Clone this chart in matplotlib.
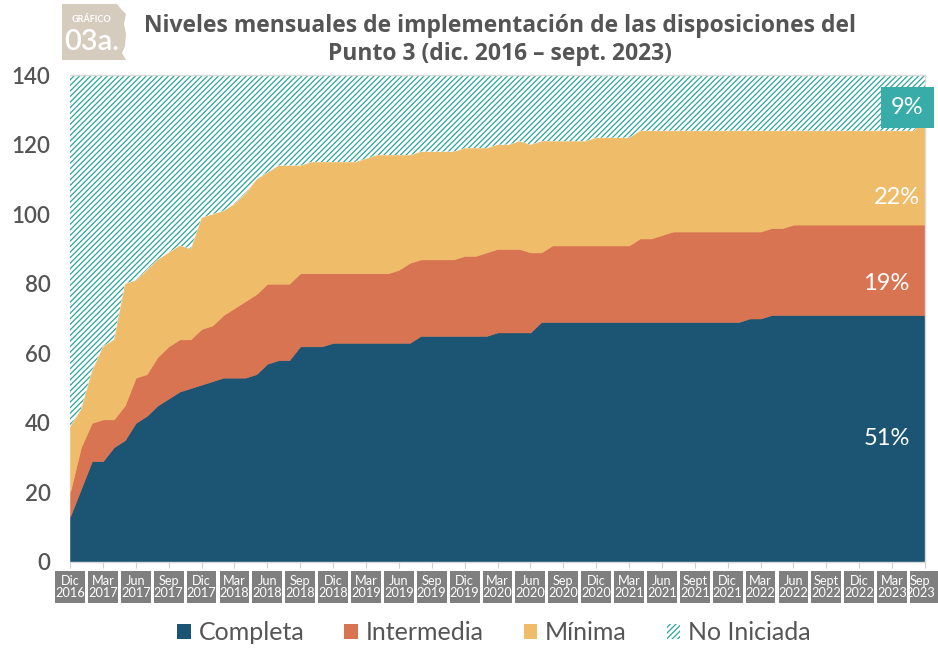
import numpy as np
import matplotlib
matplotlib.use("Agg")
import matplotlib.pyplot as plt
from matplotlib.patches import Patch, Rectangle, Polygon
import matplotlib.transforms as mtransforms

# monthly counts, Dic 2016 .. Sep 2023
completa = [13, 21, 29, 29, 33, 35, 40, 42, 45, 47, 49, 50, 51, 52, 53, 53, 53, 54, 57, 58,
            58, 62, 62, 62, 63, 63, 63, 63, 63, 63, 63, 63, 65, 65, 65, 65, 65, 65, 65, 66,
            66, 66, 66, 69, 69, 69, 69, 69, 69, 69, 69, 69, 69, 69, 69, 69, 69, 69, 69, 69,
            69, 69, 70, 70, 71, 71, 71, 71, 71, 71, 71, 71, 71, 71, 71, 71, 71, 71, 71]
intermedia = [7, 12, 11, 12, 8, 10, 13, 12, 14, 15, 15, 14, 16, 16, 18, 20, 22, 23, 23, 22,
              22, 21, 21, 21, 20, 20, 20, 20, 20, 20, 21, 23, 22, 22, 22, 22, 23, 23, 24, 24,
              24, 24, 23, 20, 22, 22, 22, 22, 22, 22, 22, 22, 24, 24, 25, 26, 26, 26, 26, 26,
              26, 26, 25, 25, 25, 25, 26, 26, 26, 26, 26, 26, 26, 26, 26, 26, 26, 26, 26]
minima = [19, 11, 15, 21, 23, 35, 28, 30, 28, 27, 27, 26, 32, 32, 30, 30, 31, 33, 32, 34,
          34, 31, 32, 32, 32, 32, 32, 33, 34, 34, 33, 31, 31, 31, 31, 31, 31, 31, 30, 30,
          30, 31, 31, 32, 30, 30, 30, 30, 31, 31, 31, 31, 31, 31, 30, 29, 29, 29, 29, 29,
          29, 29, 29, 29, 28, 28, 27, 27, 27, 27, 27, 27, 27, 27, 27, 27, 27, 27, 31]
no_iniciada = [101, 96, 85, 78, 76, 60, 59, 56, 53, 51, 49, 50, 41, 40, 39, 37, 34, 30, 28, 26,
               26, 26, 25, 25, 25, 25, 25, 24, 23, 23, 23, 23, 22, 22, 22, 22, 21, 21, 21, 20,
               20, 19, 20, 19, 19, 19, 19, 19, 18, 18, 18, 18, 16, 16, 16, 16, 16, 16, 16, 16,
               16, 16, 16, 16, 16, 16, 16, 16, 16, 16, 16, 16, 16, 16, 16, 16, 16, 16, 12]

tick_labels = ["Dic\n2016", "Mar\n2017", "Jun\n2017", "Sep\n2017", "Dic\n2017", "Mar\n2018",
               "Jun\n2018", "Sep\n2018", "Dic\n2018", "Mar\n2019", "Jun\n2019", "Sep\n2019",
               "Dic\n2019", "Mar\n2020", "Jun\n2020", "Sep\n2020", "Dic\n2020", "Mar\n2021",
               "Jun\n2021", "Sept\n2021", "Dic\n2021", "Mar\n2022", "Jun\n2022", "Sept\n2022",
               "Dic\n2022", "Mar\n2023", "Sep\n2023"]
series_names = ["Completa", "Intermedia", "Mínima", "No Iniciada"]
end_shares = ["51%", "19%", "22%", "9%"]

COLORS = ["#1c5573", "#d97452", "#efbc6a", "white"]
HATCH_COLOR = "#2aa59d"
TEXT_GRAY = "#555555"

plt.rcParams['font.family'] = ['Lato', 'DejaVu Sans']
plt.rcParams['hatch.linewidth'] = 0.9

W, H = 938, 650
fig = plt.figure(figsize=(W / 100, H / 100), dpi=100)
ax = fig.add_axes([70 / W, 1 - 562 / H, 855 / W, 487 / H])


def px(x, y):
    return x / W, 1 - y / H


x = np.arange(len(completa))
polys = ax.stackplot(x, completa, intermedia, minima, no_iniciada, colors=COLORS)
for p, c in zip(polys[:3], COLORS[:3]):
    p.set_edgecolor(c)
    p.set_linewidth(0.4)
polys[3].set_hatch('//////')
polys[3].set_edgecolor(HATCH_COLOR)
polys[3].set_linewidth(0)

ax.set_xlim(0, len(x) - 1)
ax.set_ylim(0, 140)
ax.set_yticks(range(0, 141, 20))
ax.tick_params(axis='y', length=0, pad=14, labelsize=16, labelcolor=TEXT_GRAY)
for t in ax.get_yticklabels():
    t.set_fontweight('semibold')
ax.set_xticks(range(0, len(x), 3))
ax.set_xticklabels([])
ax.tick_params(axis='x', length=4, color='#d0d0d0')
for s in ax.spines.values():
    s.set_color('#d9d9d9')
    s.set_linewidth(1)
ax.spines['left'].set_visible(False)

# grey boxed month labels
trans = mtransforms.blended_transform_factory(ax.transData, ax.transAxes)
for k, lab in enumerate(tick_labels):
    xi = 3 * k
    ax.add_patch(Rectangle((xi - 1.36, -0.0842), 2.72, 0.0657, transform=trans,
                           facecolor='#7f7f7f', edgecolor='none', clip_on=False))
    # last box runs past the figure edge; nudge its text inside
    tx = xi - 0.45 if k == len(tick_labels) - 1 else xi
    ax.text(tx, -0.0513, lab, transform=trans, ha='center', va='center', color='white',
            fontsize=9.2, linespacing=1.0, clip_on=False)

# share labels at the end
share_kw = dict(color='white', fontsize=17, ha='center', va='center')
ax.text(74.5, 35.6, end_shares[0], **share_kw)
ax.text(74.5, 80.1, end_shares[1], **share_kw)
ax.text(75.4, 104.9, end_shares[2], **share_kw)
ax.text(76.4, 130.6, end_shares[3], clip_on=False,
        bbox=dict(boxstyle='square,pad=0.42', facecolor='#37aca8', edgecolor='none'),
        **share_kw)

# title + badge
fig.text(*px(500, 40), "Niveles mensuales de implementación de las disposiciones del\n"
         "Punto 3 (dic. 2016 – sept. 2023)", ha='center', va='center', fontsize=16.5,
         fontweight='bold', color=TEXT_GRAY, linespacing=1.2,
         family=['Open Sans', 'DejaVu Sans'])
badge = [(62, 4), (117, 4), (121, 9), (126, 14), (124, 24), (126, 34), (125, 46),
         (122, 53), (126, 60), (62, 60)]
fig.patches.append(Polygon([px(a, b) for a, b in badge], closed=True, transform=fig.transFigure,
                           facecolor='#d6ccbd', edgecolor='none'))
fig.text(*px(91, 19), "GRÁFICO", ha='center', va='center', fontsize=6.5, fontweight='bold',
         color='white')
fig.text(*px(92, 42), "03a.", ha='center', va='center', fontsize=21, fontweight='semibold',
         color='white')

handles = [Patch(facecolor=c, edgecolor='none') for c in COLORS[:3]]
handles.append(Patch(facecolor='white', edgecolor=HATCH_COLOR, hatch='//////', linewidth=0))
fig.legend(handles, series_names, loc='center', bbox_to_anchor=px(494, 633), ncol=4,
           frameon=False, fontsize=18, handlelength=0.55, handleheight=0.55,
           handletextpad=0.3, columnspacing=1.6, labelcolor=TEXT_GRAY)

fig.savefig("out.png", dpi=100)
